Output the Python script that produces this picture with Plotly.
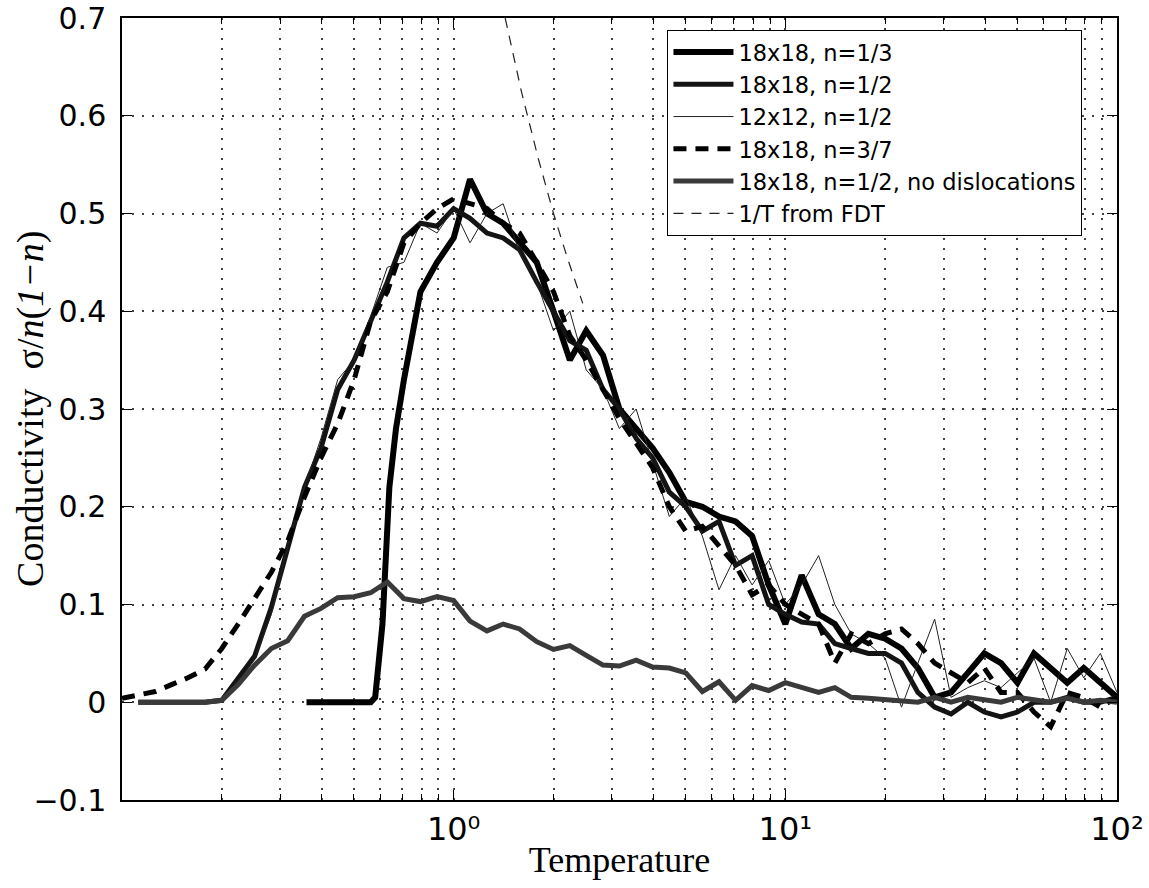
import plotly.graph_objects as go

# ---------------- data ----------------
T_grid = [0.1, 0.112, 0.126, 0.141, 0.158, 0.178, 0.2, 0.224, 0.251, 0.282, 0.316,
          0.355, 0.398, 0.447, 0.501, 0.562, 0.631, 0.708, 0.794, 0.891, 1.0,
          1.12, 1.26, 1.41, 1.58, 1.78, 2.0, 2.24, 2.51, 2.82, 3.16,
          3.55, 3.98, 4.47, 5.01, 5.62, 6.31, 7.08, 7.94, 8.91, 10.0,
          11.2, 12.6, 14.1, 15.8, 17.8, 20.0, 22.4, 25.1, 28.2, 31.6,
          35.5, 39.8, 44.7, 50.1, 56.2, 63.1, 70.8, 79.4, 89.1, 100.0]

# 18x18, n=1/3 (own temperature points, sharp onset)
T_18_third = [0.36, 0.398, 0.447, 0.501, 0.562, 0.58, 0.61, 0.64, 0.67, 0.708, 0.794,
              0.891, 1.0, 1.12, 1.26, 1.41, 1.58, 1.78, 2.0, 2.24, 2.51, 2.82, 3.16,
              3.55, 3.98, 4.47, 5.01, 5.62, 6.31, 7.08, 7.94, 8.91, 10.0,
              11.2, 12.6, 14.1, 15.8, 17.8, 20.0, 22.4, 25.1, 28.2, 31.6,
              35.5, 39.8, 44.7, 50.1, 56.2, 63.1, 70.8, 79.4, 89.1, 100.0]
y_18_third = [0, 0, 0, 0, 0.0, 0.005, 0.08, 0.22, 0.28, 0.33, 0.42,
              0.45, 0.475, 0.535, 0.5, 0.49, 0.47, 0.45, 0.40, 0.35, 0.38, 0.355, 0.30,
              0.28, 0.26, 0.235, 0.205, 0.20, 0.19, 0.185, 0.17, 0.12, 0.08,
              0.13, 0.09, 0.08, 0.055, 0.07, 0.065, 0.055, 0.035, 0.005, 0.01,
              0.03, 0.05, 0.04, 0.02, 0.05, 0.035, 0.02, 0.035, 0.02, 0.005]

# 18x18, n=1/2  (T_grid[1:])
y_18_half = [0, 0, 0, 0, 0, 0.002,
             0.025, 0.047, 0.097, 0.16, 0.22, 0.26, 0.32, 0.35, 0.39, 0.43, 0.475, 0.49, 0.487, 0.505,
             0.495, 0.48, 0.475, 0.463, 0.43, 0.40, 0.37, 0.36, 0.32, 0.30, 0.27, 0.25, 0.215, 0.20,
             0.175, 0.185, 0.14, 0.15, 0.10, 0.09,
             0.082, 0.08, 0.06, 0.055, 0.05, 0.05, 0.04, 0.01, -0.005, -0.012, 0.0, -0.01, -0.015,
             -0.01, 0.0, 0.0, 0.005, 0.0, 0.0, 0.005]

# 12x12, n=1/2  (T_grid[1:])
y_12_half = [0, 0, 0, 0, 0, 0.002,
             0.02, 0.045, 0.09, 0.16, 0.22, 0.27, 0.33, 0.35, 0.395, 0.445, 0.45, 0.49, 0.48, 0.505,
             0.47, 0.50, 0.51, 0.46, 0.43, 0.38, 0.40, 0.34, 0.32, 0.28, 0.30, 0.245, 0.19, 0.21,
             0.17, 0.115, 0.15, 0.12, 0.145, 0.10,
             0.12, 0.15, 0.10, 0.07, 0.06, 0.045, -0.005, 0.04, 0.085, 0.005, 0.015, 0.022, 0.015,
             0.03, 0.045, 0.0, 0.055, 0.025, 0.05, 0.01]

# 18x18, n=3/7  (T_grid)
y_18_37 = [0.004, 0.008, 0.011, 0.018, 0.025, 0.034, 0.055,
           0.08, 0.107, 0.133, 0.165, 0.21, 0.25, 0.285, 0.33, 0.39, 0.42, 0.47, 0.49, 0.505, 0.515,
           0.51, 0.505, 0.49, 0.48, 0.45, 0.42, 0.375, 0.35, 0.32, 0.29, 0.265, 0.24, 0.2, 0.175,
           0.18, 0.16, 0.14, 0.11, 0.12, 0.10,
           0.09, 0.08, 0.04, 0.07, 0.06, 0.07, 0.075, 0.06, 0.04, 0.03, 0.02, 0.035, 0.01,
           0.01, -0.01, -0.025, 0.01, 0.005, -0.005, 0.005]

# 18x18, n=1/2, no dislocations  (T_grid[1:])
y_nodisl = [0, 0, 0, 0, 0, 0.002,
            0.018, 0.038, 0.055, 0.063, 0.088, 0.096, 0.107, 0.108, 0.112, 0.123, 0.106, 0.103,
            0.108, 0.104,
            0.083, 0.073, 0.08, 0.075, 0.062, 0.054, 0.058, 0.048, 0.038, 0.037, 0.043, 0.036,
            0.035, 0.03, 0.011, 0.021, 0.002, 0.017, 0.012, 0.02,
            0.015, 0.01, 0.015, 0.005, 0.004, 0.003, 0.001, 0.0, 0.005, 0.0, 0.005, 0.003, 0.0,
            0.005, 0.002, 0.0, 0.004, 0.0, 0.002, 0.0]

# 1/T from FDT
T_fdt = [1.43, 1.6, 1.8, 2.0, 2.2, 2.45]
y_fdt = [0.70, 0.625, 0.556, 0.5, 0.455, 0.408]

names = ["18x18, n=1/3", "18x18, n=1/2", "12x12, n=1/2", "18x18, n=3/7",
         "18x18, n=1/2, no dislocations", "1/T from FDT"]

y_ticks = [-0.1, 0, 0.1, 0.2, 0.3, 0.4, 0.5, 0.6, 0.7]
y_ticktext = ["\u22120.1", "0", "0.1", "0.2", "0.3", "0.4", "0.5", "0.6", "0.7"]
x_ticks = [1, 10, 100]
x_ticktext = ["10\u2070", "10\u00b9", "10\u00b2"]
x_minor = [0.2, 0.3, 0.4, 0.5, 0.6, 0.7, 0.8, 0.9,
           2, 3, 4, 5, 6, 7, 8, 9,
           20, 30, 40, 50, 60, 70, 80, 90]

x_title = "Temperature"
y_title = "Conductivity  \u03c3/<i>n</i>(<i>1\u2212n</i>)"

# ---------------- figure ----------------
fig = go.Figure()
fig.add_trace(go.Scatter(x=T_18_third, y=y_18_third, mode="lines", name=names[0],
                         line=dict(color="#000000", width=6)))
fig.add_trace(go.Scatter(x=T_grid[1:], y=y_18_half, mode="lines", name=names[1],
                         line=dict(color="#141414", width=5)))
fig.add_trace(go.Scatter(x=T_grid[1:], y=y_12_half, mode="lines", name=names[2],
                         line=dict(color="#222222", width=1)))
fig.add_trace(go.Scatter(x=T_grid, y=y_18_37, mode="lines", name=names[3],
                         line=dict(color="#000000", width=5, dash="13px,9px")))
fig.add_trace(go.Scatter(x=T_grid[1:], y=y_nodisl, mode="lines", name=names[4],
                         line=dict(color="#3a3a3a", width=5)))
fig.add_trace(go.Scatter(x=T_fdt, y=y_fdt, mode="lines", name=names[5],
                         line=dict(color="#222222", width=1.2, dash="10px,8px")))

grid_color = "#444444"
fig.update_layout(
    width=1149, height=888,
    margin=dict(l=122, r=32, t=18, b=88),
    paper_bgcolor="white", plot_bgcolor="white",
    font=dict(family="DejaVu Sans", size=30, color="black"),
    showlegend=True,
    legend=dict(x=0.548, y=0.985, xanchor="left", yanchor="top",
                bgcolor="white", bordercolor="black", borderwidth=1.2,
                font=dict(family="DejaVu Sans", size=22.5, color="black"),
                itemwidth=60, tracegroupgap=0),
    xaxis=dict(type="log", range=[-1, 2], automargin=False,
               tickmode="array", tickvals=x_ticks, ticktext=x_ticktext,
               ticks="inside", ticklen=10, tickwidth=1.2, tickcolor="black",
               showline=True, linecolor="black", linewidth=1.5, mirror="ticks",
               showgrid=True, gridcolor=grid_color, gridwidth=1.5, griddash="2px,8px",
               minor=dict(tickmode="array", tickvals=x_minor, ticks="inside", ticklen=6,
                          tickcolor="black", showgrid=True, gridcolor=grid_color,
                          gridwidth=1.5, griddash="2px,8px"),
               tickfont=dict(family="DejaVu Sans", size=32),
               title=dict(text=x_title,
                          font=dict(family="Liberation Serif", size=36),
                          standoff=0)),
    yaxis=dict(range=[-0.1, 0.7], automargin=False,
               tickmode="array", tickvals=y_ticks, ticktext=y_ticktext,
               ticks="inside", ticklen=10, tickwidth=1.2, tickcolor="black",
               showline=True, linecolor="black", linewidth=1.5, mirror="ticks",
               showgrid=True, gridcolor=grid_color, gridwidth=1.5, griddash="2px,8px",
               zeroline=False,
               ticklabelstandoff=8,
               tickfont=dict(family="DejaVu Sans", size=30)),
    annotations=[dict(text=y_title, textangle=-90, xref="paper", yref="paper",
                      x=-0.0925, y=0.5, xanchor="center", yanchor="middle",
                      showarrow=False,
                      font=dict(family="Liberation Serif", size=38, color="black"))],
)

fig.write_html("out.html")
